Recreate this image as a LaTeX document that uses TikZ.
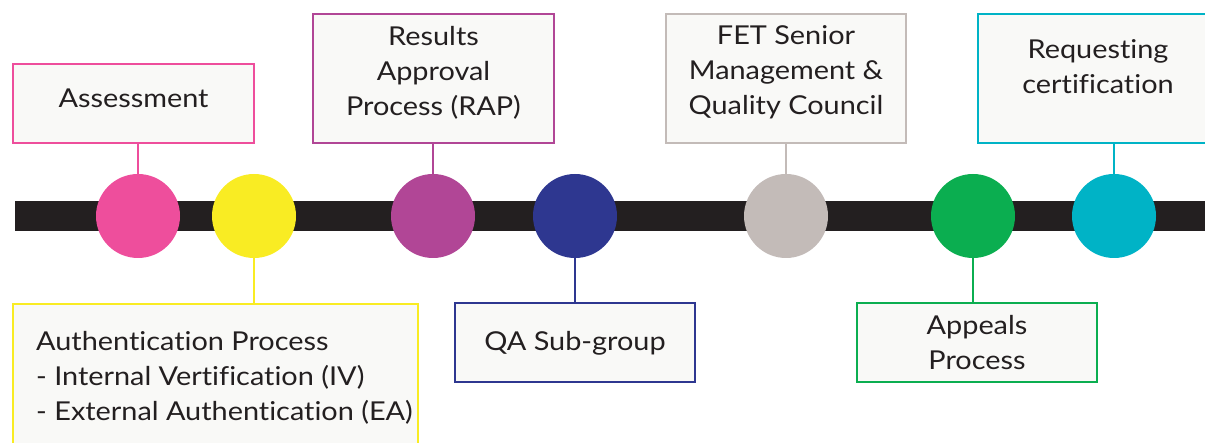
\documentclass[tikz,border=0pt]{standalone}
\usepackage{fontspec}
\setmainfont{Lato}[FakeStretch=1.11,Ligatures={NoCommon,NoRare,NoDiscretionary}]
\definecolor{cpink}{HTML}{EE4E9C}
\definecolor{cyellow}{HTML}{F9EC23}
\definecolor{cmag}{HTML}{B14696}
\definecolor{cnavy}{HTML}{2E3790}
\definecolor{cgray}{HTML}{C3BBB8}
\definecolor{cgreen}{HTML}{0BAE50}
\definecolor{cteal}{HTML}{00B3C6}
\definecolor{boxfill}{HTML}{F9F9F7}
\definecolor{ink}{HTML}{231F20}
\begin{document}
\begin{tikzpicture}[x=1pt,y=-1pt,
  stepbox/.style={draw=#1,line width=2.8pt,fill=boxfill,rectangle,inner sep=0pt},
  dot/.style={circle,fill=#1,minimum size=84pt,inner sep=0pt},
  stem/.style={draw=#1,line width=2.8pt},
  lbl/.style={text=ink,font=\fontsize{26}{35}\selectfont,align=center,inner sep=0pt}]
\useasboundingbox (0,0) rectangle (1205,443);
\clip (0,0) rectangle (1205,443);
\fill[fill=ink] (15,201) rectangle (1210,231);
% circles
\node[dot=cpink] (c1) at (138,216) {};
\node[dot=cyellow] (c2) at (254,216) {};
\node[dot=cmag] (c3) at (433,216) {};
\node[dot=cnavy] (c4) at (575,216) {};
\node[dot=cgray] (c5) at (786,216) {};
\node[dot=cgreen] (c6) at (973,216) {};
\node[dot=cteal] (c7) at (1114,216) {};
% boxes
\node[stepbox=cpink,minimum width=241pt,minimum height=79pt] (b1) at (133.5,103.5) {};
\node[stepbox=cyellow,minimum width=405pt,minimum height=160pt] (b2) at (215.5,384) {};
\node[stepbox=cmag,minimum width=241pt,minimum height=129pt] (b3) at (433.5,78.5) {};
\node[stepbox=cnavy,minimum width=240pt,minimum height=79pt] (b4) at (575,342.5) {};
\node[stepbox=cgray,minimum width=240pt,minimum height=129pt] (b5) at (786,78.5) {};
\node[stepbox=cgreen,minimum width=240pt,minimum height=79pt] (b6) at (977,342.5) {};
\node[stepbox=cteal,minimum width=240pt,minimum height=129pt] (b7) at (1098,78.5) {};
% stems
\draw[stem=cpink] (b1.south -| c1) -- (c1.north);
\draw[stem=cyellow] (c2.south) -- (b2.north -| c2);
\draw[stem=cmag] (b3.south -| c3) -- (c3.north);
\draw[stem=cnavy] (c4.south) -- (b4.north -| c4);
\draw[stem=cgray] (b5.south -| c5) -- (c5.north);
\draw[stem=cgreen] (c6.south) -- (b6.north -| c6);
\draw[stem=cteal] (b7.south -| c7) -- (c7.north);
% texts
\node[lbl] (t1) at (133.5,98) {Assessment};
\node[lbl,align=left,anchor=west] (t2) at (36,378) {Authentication Process\\- Internal Vertification (IV)\\- External Authentication (EA)};
\node[lbl] (t3) at (433.5,73) {Results\\Approval\\Process (RAP)};
\node[lbl] (t4) at (575,343) {QA Sub-group};
\node[lbl] (t5) at (786,72) {FET Senior\\Management \&\\Quality Council};
\node[lbl] (t6) at (977,342.5) {Appeals\\Process};
\node[lbl] (t7) at (1098,67) {Requesting\\certification};
\end{tikzpicture}
\end{document}
